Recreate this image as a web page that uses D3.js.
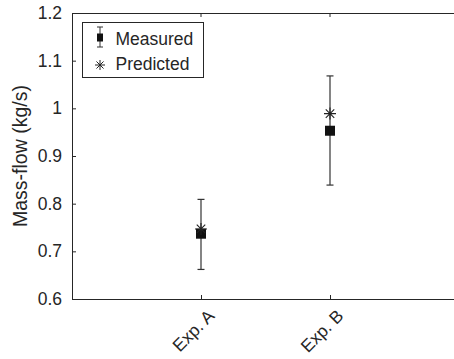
<!DOCTYPE html>
<html>
<head>
<meta charset="UTF-8">
<script src="https://d3js.org/d3.v7.min.js"></script>
<style>
  body { margin: 0; background: #fff; }
  text { font-family: "Liberation Sans", Arial, sans-serif; }
</style>
</head>
<body>
<svg id="chart" width="454" height="359"></svg>
<script>
  // values
  const categories = ["Exp. A", "Exp. B"];
  const measured = [0.737, 0.953];
  const errLow = [0.662, 0.839];
  const errHigh = [0.809, 1.068];
  const predicted = [0.747, 0.989];
  const yTicks = [0.6, 0.7, 0.8, 0.9, 1, 1.1, 1.2];

  const margin = { top: 13, left: 72, bottom: 60 };
  const width = 459 - margin.left;   // right edge falls just outside the window
  const height = 299 - margin.top;
  const fs = 17.5;

  const svg = d3.select("#chart");
  const g = svg.append("g").attr("transform", `translate(${margin.left},${margin.top})`);

  const x = d3.scaleLinear().domain([0, 3]).range([0, width]);
  const y = d3.scaleLinear().domain([0.6, 1.2]).range([height, 0]);

  // box
  g.append("rect")
    .attr("x", 0.5).attr("y", 0.5)
    .attr("width", width).attr("height", height)
    .attr("fill", "none").attr("stroke", "#262626").attr("stroke-width", 1);

  // y axis
  const yAxis = g.append("g")
    .call(d3.axisLeft(y).tickValues(yTicks).tickSizeInner(-4).tickSizeOuter(0).tickPadding(10)
      .tickFormat(d => d3.format("")(+d.toFixed(1))));
  yAxis.select(".domain").remove();
  yAxis.selectAll("line").attr("stroke", "#262626");
  yAxis.selectAll("text").attr("font-size", fs).attr("fill", "#262626")
    .attr("font-family", "Liberation Sans, Arial, sans-serif");

  // x axis
  const xAxis = g.append("g").attr("transform", `translate(0,${height})`)
    .call(d3.axisBottom(x).tickValues([1, 2]).tickSizeInner(-4).tickSizeOuter(0)
      .tickFormat((d, i) => categories[i]));
  xAxis.select(".domain").remove();
  xAxis.selectAll("line").attr("stroke", "#262626");
  xAxis.selectAll("text")
    .attr("font-size", fs).attr("fill", "#262626")
    .attr("font-family", "Liberation Sans, Arial, sans-serif")
    .attr("text-anchor", "end")
    .attr("dy", null).attr("y", null)
    .attr("transform", "translate(14,18) rotate(-45)");

  // top ticks
  g.append("g").selectAll("line").data([1, 2]).join("line")
    .attr("x1", d => x(d)).attr("x2", d => x(d))
    .attr("y1", 0).attr("y2", 4)
    .attr("stroke", "#262626");

  // error bars
  const capW = 3.5;
  const eb = g.append("g").selectAll("g").data(categories).join("g");
  eb.append("line")
    .attr("x1", (d, i) => x(i + 1)).attr("x2", (d, i) => x(i + 1))
    .attr("y1", (d, i) => y(errLow[i])).attr("y2", (d, i) => y(errHigh[i]))
    .attr("stroke", "#333").attr("stroke-width", 1.2);
  [errLow, errHigh].forEach(arr => {
    eb.append("line")
      .attr("x1", (d, i) => x(i + 1) - capW).attr("x2", (d, i) => x(i + 1) + capW)
      .attr("y1", (d, i) => y(arr[i])).attr("y2", (d, i) => y(arr[i]))
      .attr("stroke", "#333").attr("stroke-width", 1.2);
  });

  // measured squares
  g.append("g").selectAll("rect").data(measured).join("rect")
    .attr("x", (d, i) => x(i + 1) - 5).attr("y", d => y(d) - 5)
    .attr("width", 10).attr("height", 10)
    .attr("fill", "#111");

  // predicted asterisks
  const star = (cx, cy, r) => {
    const a = r * Math.SQRT1_2;
    return `M${cx - r},${cy}L${cx + r},${cy}M${cx},${cy - r}L${cx},${cy + r}` +
      `M${cx - a},${cy - a}L${cx + a},${cy + a}M${cx - a},${cy + a}L${cx + a},${cy - a}`;
  };
  g.append("g").selectAll("path").data(predicted).join("path")
    .attr("d", (d, i) => star(x(i + 1), y(d), 6))
    .attr("stroke", "#222").attr("stroke-width", 1.1).attr("fill", "none");

  // y label
  svg.append("text")
    .attr("transform", `translate(27,${margin.top + height / 2}) rotate(-90)`)
    .attr("text-anchor", "middle")
    .attr("font-size", 19.5).attr("fill", "#262626")
    .text("Mass-flow (kg/s)");

  // legend
  const lg = svg.append("g").attr("transform", "translate(82.5,22.5)");
  lg.append("rect").attr("width", 121).attr("height", 55)
    .attr("fill", "#fff").attr("stroke", "#262626");
  lg.append("line").attr("x1", 17.5).attr("x2", 17.5).attr("y1", 4.5).attr("y2", 24.5).attr("stroke", "#333");
  lg.append("line").attr("x1", 14.5).attr("x2", 20.5).attr("y1", 4.5).attr("y2", 4.5).attr("stroke", "#333");
  lg.append("line").attr("x1", 14.5).attr("x2", 20.5).attr("y1", 24.5).attr("y2", 24.5).attr("stroke", "#333");
  lg.append("rect").attr("x", 14.5).attr("y", 11).attr("width", 6).attr("height", 8).attr("fill", "#111");
  lg.append("path").attr("d", star(17.5, 42.5, 5)).attr("stroke", "#222").attr("fill", "none");
  lg.append("text").attr("x", 33).attr("y", 22.5).attr("font-size", fs).attr("fill", "#262626").text("Measured");
  lg.append("text").attr("x", 33).attr("y", 47).attr("font-size", fs).attr("fill", "#262626").text("Predicted");
</script>
</body>
</html>
